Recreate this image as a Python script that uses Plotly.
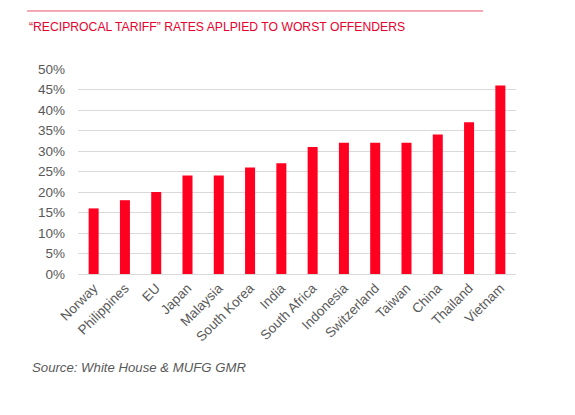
import plotly.graph_objects as go

countries = ["Norway", "Philippines", "EU", "Japan", "Malaysia", "South Korea", "India",
             "South Africa", "Indonesia", "Switzerland", "Taiwan", "China", "Thailand", "Vietnam"]
rates = [16, 18, 20, 24, 24, 26, 27, 31, 32, 32, 32, 34, 37, 46]
y_ticks = [0, 5, 10, 15, 20, 25, 30, 35, 40, 45, 50]
y_labels = [f"{t}%" for t in y_ticks]

fig = go.Figure(go.Bar(
    x=countries,
    y=rates,
    marker=dict(color="#FF0020", line_width=0),
    width=0.32,
    hoverinfo="x+y",
))

# page body adds an 8px offset, so margins are shifted to compensate
fig.update_layout(
    width=575, height=415,
    margin=dict(l=70, r=67, t=61, b=149),
    paper_bgcolor="white",
    plot_bgcolor="white",
    font=dict(family="Liberation Sans, Arial, sans-serif", size=12, color="#595959"),
    showlegend=False,
    xaxis=dict(
        tickangle=-45,
        showgrid=False,
        showline=True,
        linecolor="#d9d9d9",
        linewidth=1,
        ticks="",
        tickfont=dict(size=13.5, color="#595959"),
        fixedrange=True,
    ),
    yaxis=dict(
        range=[0, 50],
        tickvals=y_ticks,
        ticktext=y_labels,
        showgrid=True,
        gridcolor="#d9d9d9",
        gridwidth=1,
        zeroline=False,
        ticks="",
        ticklabelstandoff=12,
        tickfont=dict(size=13.5, color="#595959"),
        fixedrange=True,
    ),
    shapes=[dict(type="line", xref="paper", yref="paper",
                 x0=-0.1164, x1=0.925, y0=1.283, y1=1.283,
                 line=dict(color="#E8546A", width=1))],
    annotations=[
        dict(text="\u201cRECIPROCAL TARIFF\u201d RATES APLPIED TO WORST OFFENDERS",
             xref="paper", yref="paper", x=-0.1164, y=1.205, xanchor="left", yanchor="middle",
             showarrow=False, font=dict(size=12.2, color="#E8002D")),
        dict(text="<i>Source: White House & MUFG GMR</i>",
             xref="paper", yref="paper", x=-0.1096, y=-0.4585, xanchor="left", yanchor="middle",
             showarrow=False, font=dict(size=13.2, color="#595959")),
    ],
)

fig.write_html("out.html")
